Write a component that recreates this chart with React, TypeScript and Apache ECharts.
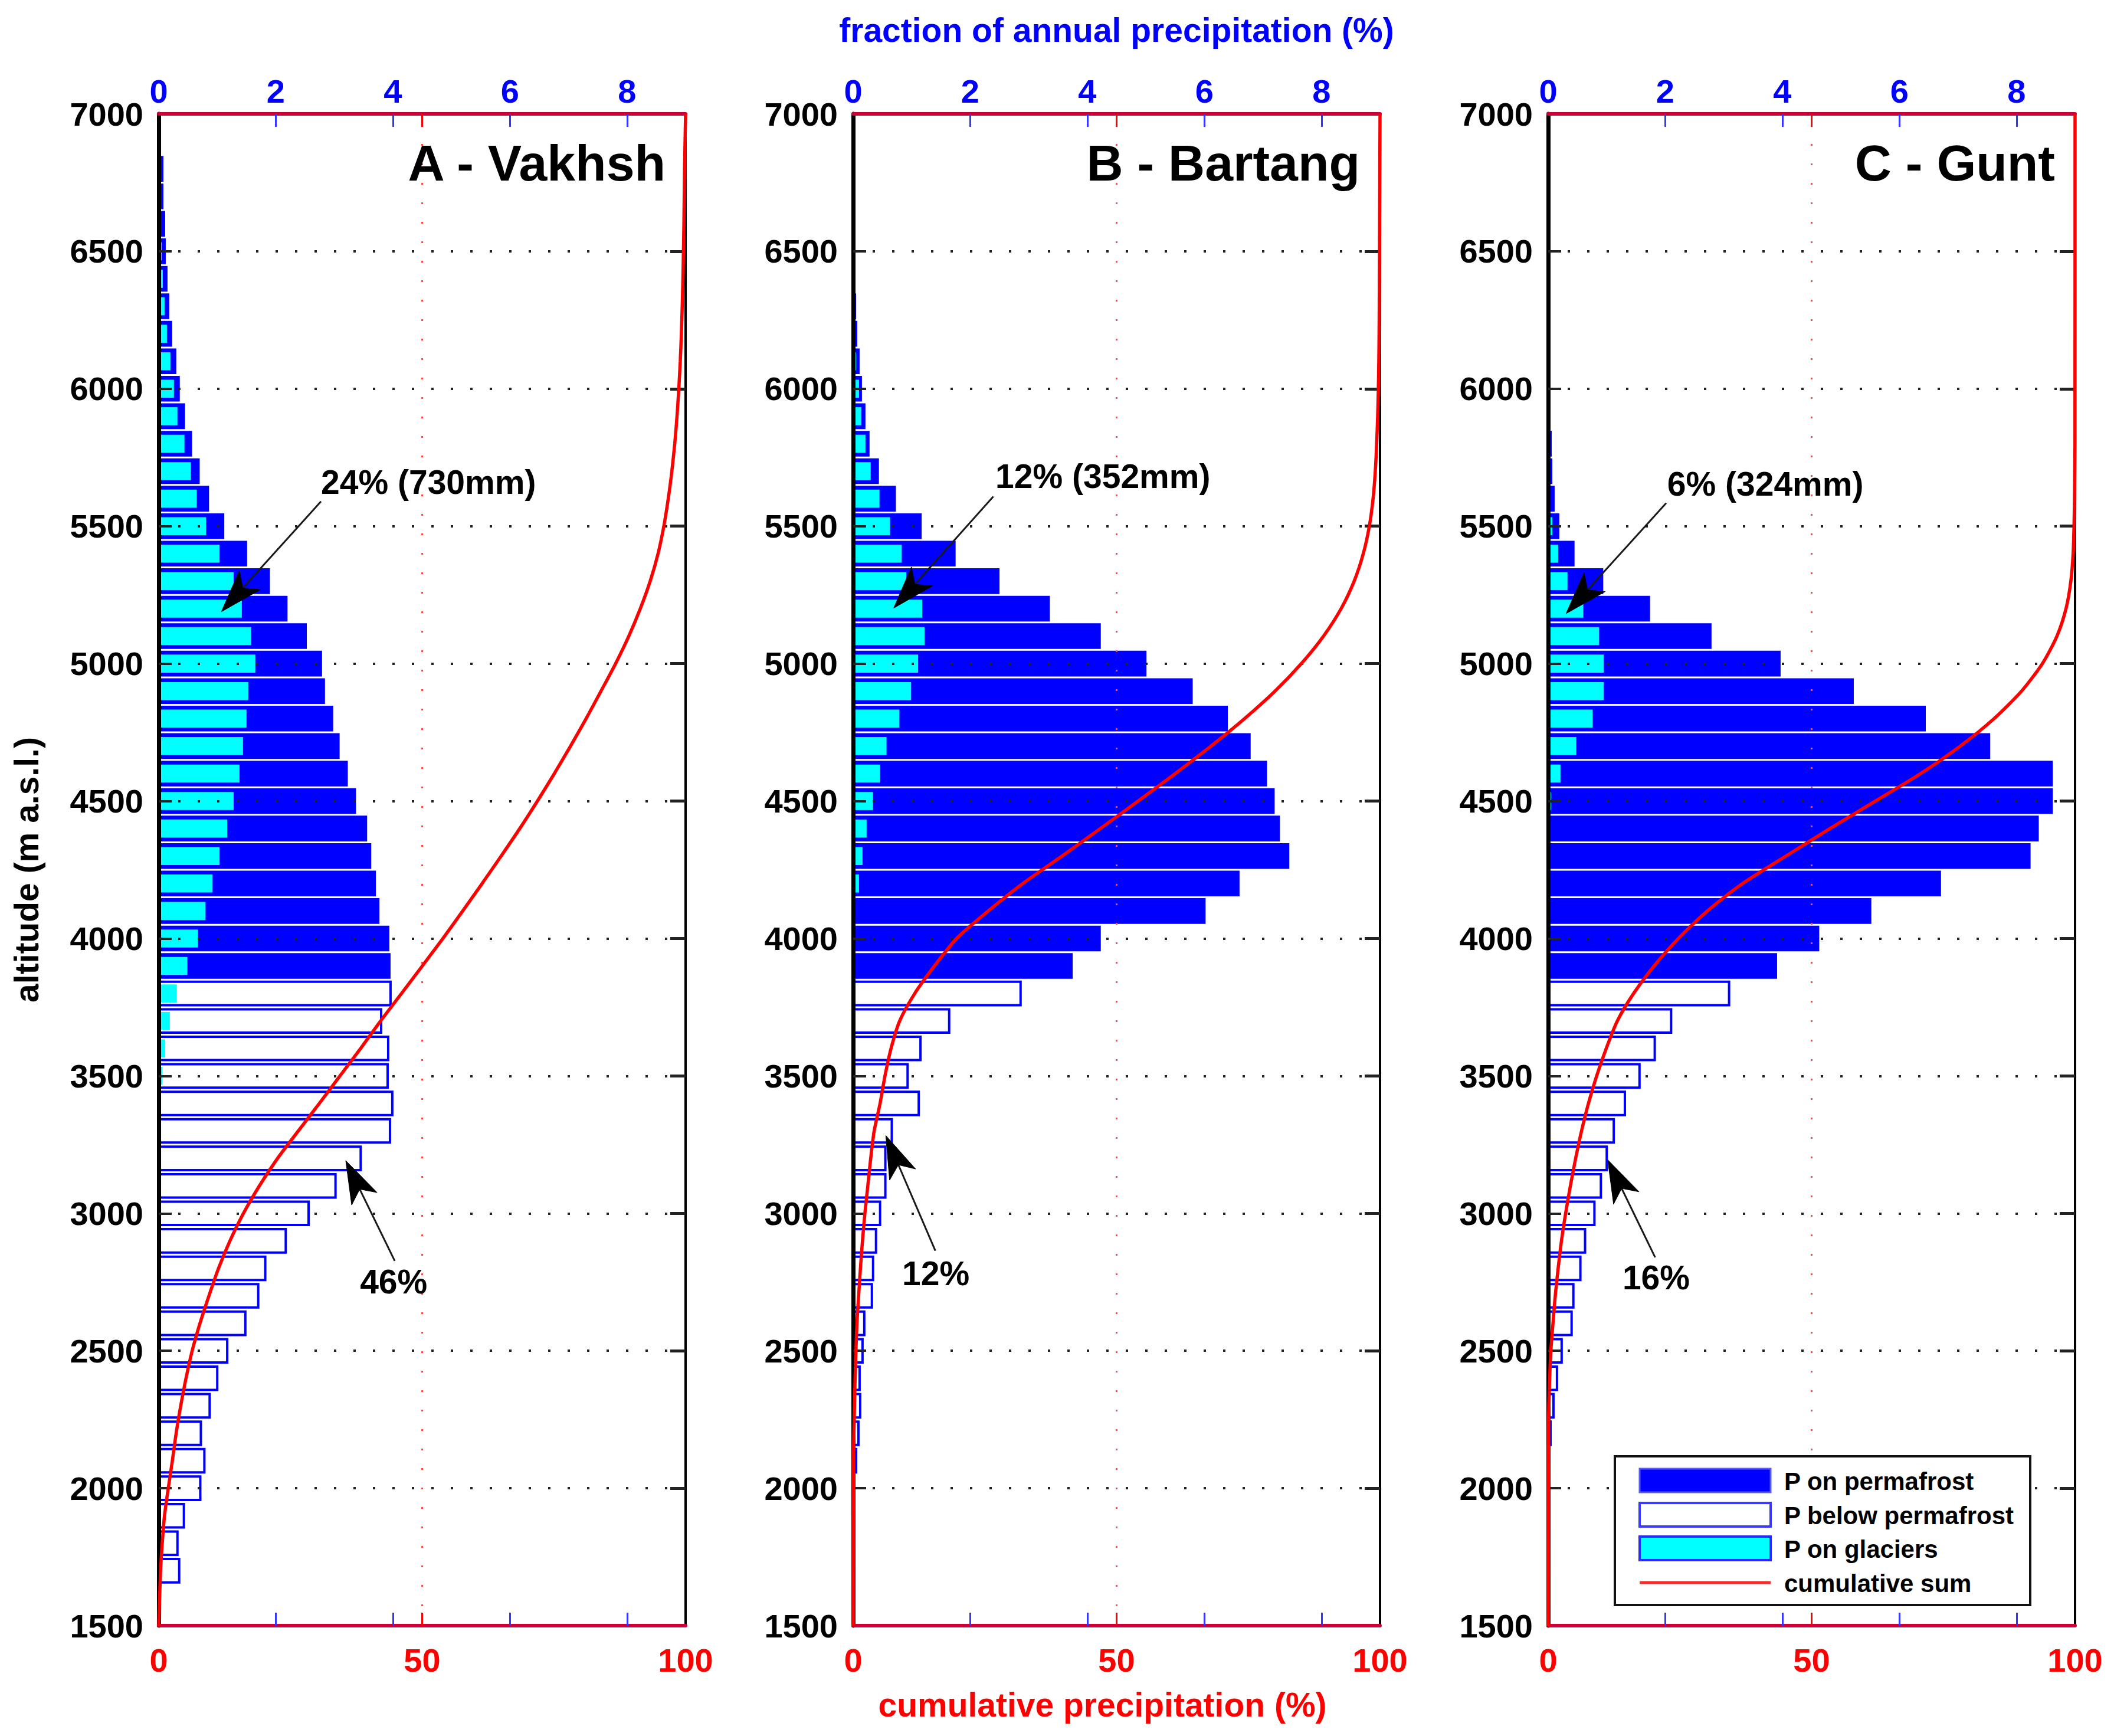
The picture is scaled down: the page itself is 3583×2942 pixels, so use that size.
import React, { useEffect, useRef } from "react";
import * as echarts from "echarts";

const FONT = '"Liberation Sans", Arial, Helvetica, sans-serif';

// ---- axis ranges ----
const ALT_MIN = 1500;
const ALT_MAX = 7000;
const ALT_STEP = 500;
const CUM_MAX = 100;
const CUM_STEP = 50;
const CUM_MID = 50;
const FRAC_MAX = 9;
const FRAC_STEP = 2;
const BIN = 100; // altitude bin height (m)
const PERMAFROST_BASE = 3850; // lower limit of permafrost (m a.s.l.)

const CUM_TICKS = [50];
const FRAC_TICKS = [2, 4, 6, 8];

const SERIES_NAMES = ["P on permafrost", "P below permafrost", "P on glaciers", "cumulative sum"];
const PANEL_TITLES = ["A - Vakhsh", "B - Bartang", "C - Gunt"];

// ---- A - Vakhsh ----
const ALT_VAKHSH = [1700, 1800, 1900, 2000, 2100, 2200, 2300, 2400, 2500, 2600,
  2700, 2800, 2900, 3000, 3100, 3200, 3300, 3400, 3500, 3600,
  3700, 3800, 3900, 4000, 4100, 4200, 4300, 4400, 4500, 4600,
  4700, 4800, 4900, 5000, 5100, 5200, 5300, 5400, 5500, 5600,
  5700, 5800, 5900, 6000, 6100, 6200, 6300, 6400, 6500, 6600,
  6700, 6800];
const P_VAKHSH = [0.35, 0.32, 0.43, 0.71, 0.78, 0.72, 0.87, 1.00, 1.17, 1.48,
  1.70, 1.82, 2.17, 2.56, 3.02, 3.45, 3.95, 3.99, 3.91, 3.92,
  3.80, 3.96, 3.94, 3.92, 3.75, 3.69, 3.61, 3.54, 3.35, 3.21,
  3.07, 2.96, 2.82, 2.77, 2.51, 2.18, 1.88, 1.49, 1.10, 0.84,
  0.68, 0.55, 0.43, 0.34, 0.28, 0.21, 0.16, 0.13, 0.10, 0.09,
  0.06, 0.06];
const G_VAKHSH = [0, 0, 0, 0, 0, 0, 0, 0, 0, 0,
  0, 0, 0, 0, 0, 0, 0, 0.03, 0.06, 0.11,
  0.19, 0.31, 0.49, 0.67, 0.80, 0.92, 1.04, 1.17, 1.28, 1.38,
  1.44, 1.50, 1.53, 1.65, 1.58, 1.42, 1.28, 1.04, 0.81, 0.65,
  0.55, 0.44, 0.32, 0.26, 0.20, 0.14, 0.10, 0.07, 0.05, 0.03,
  0.02, 0];
const CUM_VAKHSH = [0.35, 0.67, 1.10, 1.81, 2.59, 3.31, 4.18, 5.18, 6.35, 7.83,
  9.53, 11.35, 13.52, 16.08, 19.10, 22.55, 26.50, 30.49, 34.40, 38.32,
  42.12, 46.08, 50.02, 53.94, 57.69, 61.38, 64.99, 68.53, 71.88, 75.09,
  78.16, 81.12, 83.94, 86.71, 89.22, 91.40, 93.28, 94.77, 95.87, 96.71,
  97.39, 97.94, 98.37, 98.71, 98.99, 99.20, 99.36, 99.49, 99.59, 99.68,
  99.74, 99.80];

// ---- B - Bartang ----
const ALT_BARTANG = [2100, 2200, 2300, 2400, 2500, 2600, 2700, 2800, 2900, 3000,
  3100, 3200, 3300, 3400, 3500, 3600, 3700, 3800, 3900, 4000,
  4100, 4200, 4300, 4400, 4500, 4600, 4700, 4800, 4900, 5000,
  5100, 5200, 5300, 5400, 5500, 5600, 5700, 5800, 5900, 6000,
  6100, 6200, 6300];
const P_BARTANG = [0.05, 0.09, 0.12, 0.11, 0.16, 0.19, 0.32, 0.34, 0.39, 0.46,
  0.55, 0.55, 0.66, 1.12, 0.93, 1.15, 1.64, 2.86, 3.73, 4.21,
  6.00, 6.58, 7.43, 7.27, 7.18, 7.05, 6.77, 6.38, 5.78, 4.99,
  4.21, 3.34, 2.48, 1.73, 1.15, 0.71, 0.42, 0.26, 0.19, 0.13,
  0.09, 0.05, 0.03];
const G_BARTANG = [0, 0, 0, 0, 0, 0, 0, 0, 0, 0,
  0, 0, 0, 0, 0, 0, 0, 0, 0, 0,
  0.04, 0.10, 0.16, 0.23, 0.34, 0.46, 0.57, 0.79, 0.99, 1.11,
  1.22, 1.18, 0.91, 0.83, 0.63, 0.45, 0.30, 0.21, 0.14, 0.10,
  0.05, 0.03, 0.02];
const CUM_BARTANG = [0.05, 0.14, 0.26, 0.37, 0.53, 0.72, 1.04, 1.38, 1.77, 2.23,
  2.78, 3.33, 3.99, 5.11, 6.04, 7.19, 8.83, 11.69, 15.42, 19.63,
  25.63, 32.21, 39.64, 46.91, 54.09, 61.14, 67.91, 74.29, 80.07, 85.06,
  89.27, 92.61, 95.09, 96.82, 97.97, 98.68, 99.10, 99.36, 99.55, 99.68,
  99.77, 99.82, 99.85];

// ---- C - Gunt ----
const ALT_GUNT = [2200, 2300, 2400, 2500, 2600, 2700, 2800, 2900, 3000, 3100,
  3200, 3300, 3400, 3500, 3600, 3700, 3800, 3900, 4000, 4100,
  4200, 4300, 4400, 4500, 4600, 4700, 4800, 4900, 5000, 5100,
  5200, 5300, 5400, 5500, 5600, 5700, 5800];
const P_GUNT = [0.04, 0.09, 0.15, 0.23, 0.40, 0.43, 0.55, 0.63, 0.79, 0.90,
  1.00, 1.12, 1.31, 1.56, 1.82, 2.10, 3.09, 3.89, 4.61, 5.50,
  6.69, 8.22, 8.36, 8.60, 8.60, 7.53, 6.43, 5.20, 3.95, 2.77,
  1.72, 0.92, 0.43, 0.17, 0.09, 0.05, 0.04];
const G_GUNT = [0, 0, 0, 0, 0, 0, 0, 0, 0, 0,
  0, 0, 0, 0, 0, 0, 0, 0, 0, 0,
  0, 0, 0, 0.05, 0.21, 0.48, 0.76, 0.95, 0.95, 0.87,
  0.60, 0.33, 0.17, 0.07, 0.03, 0.02, 0.01];
const CUM_GUNT = [0.04, 0.13, 0.28, 0.51, 0.91, 1.34, 1.89, 2.52, 3.31, 4.21,
  5.21, 6.33, 7.64, 9.20, 11.02, 13.12, 16.21, 20.10, 24.71, 30.21,
  36.90, 45.12, 53.48, 62.08, 70.68, 78.21, 84.64, 89.84, 93.79, 96.56,
  98.28, 99.20, 99.63, 99.80, 99.89, 99.94, 99.98];

const PANELS = [
  { title: PANEL_TITLES[0], alt: ALT_VAKHSH, p: P_VAKHSH, g: G_VAKHSH, cum: CUM_VAKHSH },
  { title: PANEL_TITLES[1], alt: ALT_BARTANG, p: P_BARTANG, g: G_BARTANG, cum: CUM_BARTANG },
  { title: PANEL_TITLES[2], alt: ALT_GUNT, p: P_GUNT, g: G_GUNT, cum: CUM_GUNT },
];

// annotations: positions in (cumulative %, altitude) of each panel
const ANNOTATIONS = [
  { panel: 0, text: "24% (730mm)", at: [30.8, 5660], from: [30.8, 5590], to: [11.9, 5189] },
  { panel: 0, text: "46%", at: [38.2, 2752], from: [44.8, 2827], to: [35.5, 3192] },
  { panel: 1, text: "12% (352mm)", at: [27.0, 5681], from: [26.6, 5608], to: [7.7, 5202] },
  { panel: 1, text: "12%", at: [9.3, 2782], from: [15.6, 2864], to: [6.2, 3283] },
  { panel: 2, text: "6% (324mm)", at: [22.6, 5655], from: [22.4, 5584], to: [3.4, 5182] },
  { panel: 2, text: "16%", at: [14.1, 2767], from: [20.3, 2840], to: [11.3, 3195] },
];

// ---- layout ----
const W = 3583;
const H = 2942;
const GRID_LEFT = [269, 1446, 2624];
const GRID_TOP = 193;
const GRID_W = 893;
const GRID_H = 2562;
const BAR_FILL = 0.85;

const BLUE = "#0000ff";
const CYAN = "#00ffff";
const RED = "#ff0000";
const FRAME_RED = "#cc0036";

const LBL = { fontFamily: FONT, fontWeight: "bold" as const, fontSize: 56 };

function barRenderer(fill: string, stroke: string | null, lineWidth: number, inset: number) {
  return (params: any, api: any) => {
    const alt = api.value(0);
    const v = api.value(1);
    if (!(v > 0)) return null;
    const s = api.coord([0, alt]);
    const e = api.coord([v, alt]);
    const band = api.size([0, BIN])[1];
    const h = band * BAR_FILL - inset * 2;
    const style: any = { fill };
    if (stroke) {
      style.stroke = stroke;
      style.lineWidth = lineWidth;
    } else {
      style.lineWidth = 0;
    }
    return {
      type: "rect",
      shape: { x: s[0] + inset * 0.5, y: s[1] - h / 2, width: Math.max(e[0] - s[0] - inset * 0.5, 0.5), height: h },
      style,
    };
  };
}

function buildOption() {
  const grid: any[] = [];
  const xAxis: any[] = [];
  const yAxis: any[] = [];
  const series: any[] = [];

  PANELS.forEach((pn, i) => {
    grid.push({ left: GRID_LEFT[i], top: GRID_TOP, width: GRID_W, height: GRID_H, containLabel: false });

    // 4*i: cumulative % (bottom)
    xAxis.push({
      type: "value", gridIndex: i, position: "bottom", min: 0, max: CUM_MAX, interval: CUM_STEP, z: 7,
      axisLine: { show: true, onZero: false, lineStyle: { color: FRAME_RED, width: 6 } },
      axisTick: { show: true, inside: true, length: 22, customValues: CUM_TICKS, lineStyle: { color: RED, width: 3 } },
      axisLabel: { ...LBL, color: RED, margin: 30 },
      splitLine: { show: false },
      name: i === 1 ? "cumulative precipitation (%)" : "",
      nameLocation: "middle", nameGap: 105,
      nameTextStyle: { ...LBL, fontSize: 57, color: RED, padding: [0, 48, 0, 0] },
    });
    // 4*i+1: fraction of annual precipitation (top)
    xAxis.push({
      type: "value", gridIndex: i, position: "top", min: 0, max: FRAC_MAX, interval: FRAC_STEP, z: 7,
      axisLine: { show: true, onZero: false, lineStyle: { color: FRAME_RED, width: 6 } },
      axisTick: { show: true, inside: true, length: 22, customValues: FRAC_TICKS, lineStyle: { color: "#3535ff", width: 3 } },
      axisLabel: { ...LBL, color: BLUE, margin: 11, formatter: (v: number) => (v > FRAC_MAX - 0.5 ? "" : String(v)) },
      splitLine: { show: false },
      name: i === 1 ? "fraction of annual precipitation (%)" : "",
      nameLocation: "middle", nameGap: 114,
      nameTextStyle: { ...LBL, fontSize: 57, color: BLUE },
    });
    // 4*i+2: fraction ticks at bottom
    xAxis.push({
      type: "value", gridIndex: i, position: "bottom", min: 0, max: FRAC_MAX, interval: FRAC_STEP, z: 7,
      axisLine: { show: false, onZero: false },
      axisTick: { show: true, inside: true, length: 22, customValues: FRAC_TICKS, lineStyle: { color: "#3535ff", width: 3 } },
      axisLabel: { show: false },
      splitLine: { show: false },
    });
    // 4*i+3: cumulative ticks at top
    xAxis.push({
      type: "value", gridIndex: i, position: "top", min: 0, max: CUM_MAX, interval: CUM_STEP, z: 7,
      axisLine: { show: false, onZero: false },
      axisTick: { show: true, inside: true, length: 22, customValues: CUM_TICKS, lineStyle: { color: RED, width: 3 } },
      axisLabel: { show: false },
      splitLine: { show: false },
    });

    yAxis.push({
      type: "value", gridIndex: i, position: "left", min: ALT_MIN, max: ALT_MAX, interval: ALT_STEP, z: 6,
      axisLine: { show: true, onZero: false, lineStyle: { color: "#000", width: 7 } },
      axisTick: { show: true, inside: true, length: 22, lineStyle: { color: "#222", width: 4 } },
      axisLabel: { ...LBL, color: "#000", margin: 26, formatter: (v: number) => String(v) },
      splitLine: { show: true, showMinLine: false, showMaxLine: false, lineStyle: { color: "#222", width: 4, type: [4, 29] } },
      name: i === 0 ? "altitude (m a.s.l.)" : "",
      nameLocation: "middle", nameGap: 196,
      nameTextStyle: { ...LBL, fontSize: 57, color: "#000" },
    });
    yAxis.push({
      type: "value", gridIndex: i, position: "right", min: ALT_MIN, max: ALT_MAX, interval: ALT_STEP, z: 6,
      axisLine: { show: true, onZero: false, lineStyle: { color: "#000", width: 4 } },
      axisTick: { show: true, inside: true, length: 26, lineStyle: { color: "#222", width: 5 } },
      axisLabel: { show: false },
      splitLine: { show: false },
    });

    const permafrost: number[][] = [];
    const below: number[][] = [];
    const glacier: number[][] = [];
    pn.alt.forEach((a, k) => {
      (a > PERMAFROST_BASE ? permafrost : below).push([a, pn.p[k]]);
      if (pn.g[k] > 0) glacier.push([a, pn.g[k]]);
    });

    const common = { type: "custom", xAxisIndex: 4 * i + 1, yAxisIndex: 2 * i, encode: { x: 1, y: 0 }, silent: true, clip: false };
    series.push({ ...common, name: SERIES_NAMES[0], data: permafrost, z: 2, renderItem: barRenderer(BLUE, BLUE, 4, 0) });
    series.push({ ...common, name: SERIES_NAMES[1], data: below, z: 2, renderItem: barRenderer("#ffffff", BLUE, 4, 0) });
    series.push({ ...common, name: SERIES_NAMES[2], data: glacier, z: 3, renderItem: barRenderer(CYAN, null, 0, 4.5) });

    const line: number[][] = [[0, ALT_MIN]];
    pn.cum.forEach((c, k) => line.push([c, pn.alt[k]]));
    line.push([CUM_MAX, ALT_MAX]);
    series.push({
      type: "line", name: SERIES_NAMES[3], xAxisIndex: 4 * i, yAxisIndex: 2 * i, data: line,
      showSymbol: false, symbol: "none", smooth: 0.25, clip: false, silent: true, z: 10,
      lineStyle: { color: RED, width: 5.5 },
      markLine: {
        silent: true, symbol: "none", animation: false,
        label: { show: false },
        lineStyle: { color: "#ff4a4a", width: 3, type: [3, 30] },
        data: [{ xAxis: CUM_MID }],
        z: 4,
      },
    });
  });

  return {
    animation: false,
    backgroundColor: "#ffffff",
    textStyle: { fontFamily: FONT },
    grid, xAxis, yAxis, series,
  };
}

function textEl(text: string, x: number, y: number, size: number, align: string, color = "#000") {
  return {
    type: "text", x, y, z: 30,
    style: {
      text, fill: color, font: `bold ${size}px ${FONT}`,
      align, verticalAlign: "middle", textAlign: align, textVerticalAlign: "middle",
    },
  };
}

function arrowEls(S: number[], T: number[]) {
  const dx = T[0] - S[0];
  const dy = T[1] - S[1];
  const len = Math.hypot(dx, dy);
  const ux = dx / len;
  const uy = dy / len;
  const nx = -uy;
  const ny = ux;
  const L = 72;
  const HW = 24;
  const notch = 54;
  const bx = T[0] - ux * L;
  const by = T[1] - uy * L;
  const mx = T[0] - ux * notch;
  const my = T[1] - uy * notch;
  return [
    { type: "line", z: 30, shape: { x1: S[0], y1: S[1], x2: mx, y2: my }, style: { stroke: "#1a1a1a", lineWidth: 3 } },
    {
      type: "polygon", z: 31,
      shape: { points: [[T[0], T[1]], [bx + nx * HW, by + ny * HW], [mx, my], [bx - nx * HW, by - ny * HW]] },
      style: { fill: "#000", stroke: "#000", lineWidth: 1 },
    },
  ];
}

function buildGraphics(chart: any) {
  const els: any[] = [];
  PANELS.forEach((pn, i) => {
    els.push(textEl(pn.title, GRID_LEFT[i] + GRID_W - 34, 276, 86, "right"));
  });
  ANNOTATIONS.forEach((a) => {
    const finder = { xAxisIndex: 4 * a.panel, yAxisIndex: 2 * a.panel };
    const at = chart.convertToPixel(finder, a.at);
    const from = chart.convertToPixel(finder, a.from);
    const to = chart.convertToPixel(finder, a.to);
    els.push(textEl(a.text, at[0], at[1], 57, "left"));
    els.push(...arrowEls(from, to));
  });

  // legend
  const LX = 2737, LY = 2468, LW = 704, LH = 252;
  const rowY = [2509, 2567, 2624, 2682];
  const sx = 2779, sw = 222, sh = 40, tx = 3024;
  els.push({ type: "rect", z: 40, shape: { x: LX, y: LY, width: LW, height: LH }, style: { fill: "#fff", stroke: "#111", lineWidth: 4 } });
  els.push({ type: "rect", z: 41, shape: { x: sx, y: rowY[0] - sh / 2, width: sw, height: sh }, style: { fill: BLUE, stroke: "#5a5aff", lineWidth: 3 } });
  els.push({ type: "rect", z: 41, shape: { x: sx, y: rowY[1] - sh / 2, width: sw, height: sh }, style: { fill: "#fff", stroke: "#3a3aff", lineWidth: 4 } });
  els.push({ type: "rect", z: 41, shape: { x: sx, y: rowY[2] - sh / 2, width: sw, height: sh }, style: { fill: CYAN, stroke: "#2a2aff", lineWidth: 4 } });
  els.push({ type: "line", z: 41, shape: { x1: sx, y1: rowY[3], x2: sx + sw, y2: rowY[3] }, style: { stroke: "#ff2a2a", lineWidth: 5 } });
  SERIES_NAMES.forEach((n, k) => {
    const t = textEl(n, tx, rowY[k] + 1, 42, "left");
    (t as any).z = 42;
    els.push(t);
  });
  return els;
}

export default function App() {
  const ref = useRef<HTMLDivElement>(null);
  useEffect(() => {
    if (!ref.current) return;
    const chart = echarts.init(ref.current, null, { renderer: "svg", width: W, height: H });
    chart.setOption(buildOption() as any);
    chart.setOption({ graphic: { elements: buildGraphics(chart) } } as any);
    return () => chart.dispose();
  }, []);
  return (
    <div
      ref={ref}
      style={{ position: "absolute", left: 0, top: 0, width: W, height: H, background: "#fff" }}
    />
  );
}
